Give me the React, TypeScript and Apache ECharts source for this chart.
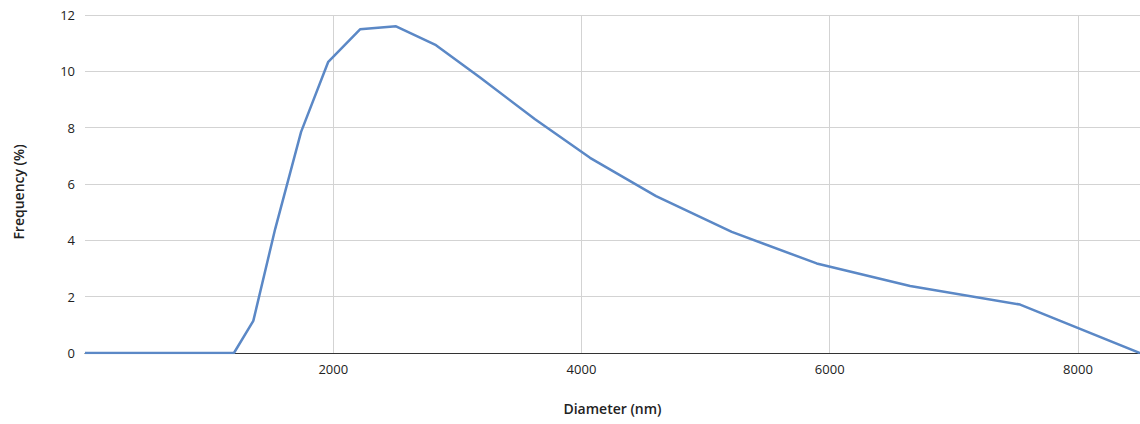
import React, { useEffect, useRef } from "react";
import * as echarts from "echarts";

const diameters = [0, 1200, 1356, 1532, 1741, 1960, 2216, 2506, 2828, 3183, 3626, 4069, 4601, 5211, 5895, 6648, 7534, 8500];
const frequencies = [0, 0, 1.14, 4.4, 7.85, 10.34, 11.49, 11.6, 10.93, 9.78, 8.3, 6.93, 5.57, 4.3, 3.18, 2.38, 1.72, 0];
const xGridTicks = [2000, 4000, 6000, 8000];
const xTitle = "Diameter (nm)";
const yTitle = "Frequency (%)";

export default function App() {
  const ref = useRef<HTMLDivElement>(null);
  useEffect(() => {
    document.body.style.margin = "0";
    const chart = echarts.init(ref.current!, null, { renderer: "svg" });
    const font = "'Open Sans', 'DejaVu Sans', sans-serif";
    chart.setOption({
      animation: false,
      grid: { left: 85, right: 0, top: 15, bottom: 71, containLabel: false },
      xAxis: {
        type: "value",
        min: 0,
        max: 8500,
        interval: 2000,
        name: xTitle,
        nameLocation: "middle",
        nameGap: 48,
        nameTextStyle: { fontFamily: font, fontSize: 14, fontWeight: 600, color: "#222" },
        axisLine: { show: true, lineStyle: { color: "#333", width: 1 } },
        axisTick: { show: false },
        axisLabel: {
          showMinLabel: false,
          showMaxLabel: false,
          margin: 9,
          fontFamily: font,
          fontSize: 13,
          color: "#222",
          formatter: (v: number) => String(v),
        },
        splitLine: { show: false },
      },
      yAxis: {
        type: "value",
        min: 0,
        max: 12,
        interval: 2,
        name: yTitle,
        nameLocation: "middle",
        nameGap: 60,
        nameTextStyle: { fontFamily: font, fontSize: 14, fontWeight: 600, color: "#222", padding: [0, 16, 0, 0] },
        axisLine: { show: false },
        axisTick: { show: false },
        axisLabel: { margin: 10, fontFamily: font, fontSize: 13, color: "#222" },
        splitLine: { show: true, lineStyle: { color: "#d3d3d3", width: 1 } },
      },
      series: [
        {
          type: "line",
          z: 2,
          data: diameters.map((d, i) => [d, frequencies[i]]),
          showSymbol: false,
          symbol: "none",
          lineStyle: { color: "#5b88c6", width: 2.5 },
          itemStyle: { color: "#5b88c6" },
          markLine: {
            z: 1,
            silent: true,
            symbol: "none",
            label: { show: false },
            lineStyle: { color: "#d3d3d3", width: 1, type: "solid" },
            data: xGridTicks.map((t) => ({ xAxis: t })),
          },
        },
      ],
    });
    return () => chart.dispose();
  }, []);
  return <div ref={ref} style={{ width: 1140, height: 424 }} />;
}
